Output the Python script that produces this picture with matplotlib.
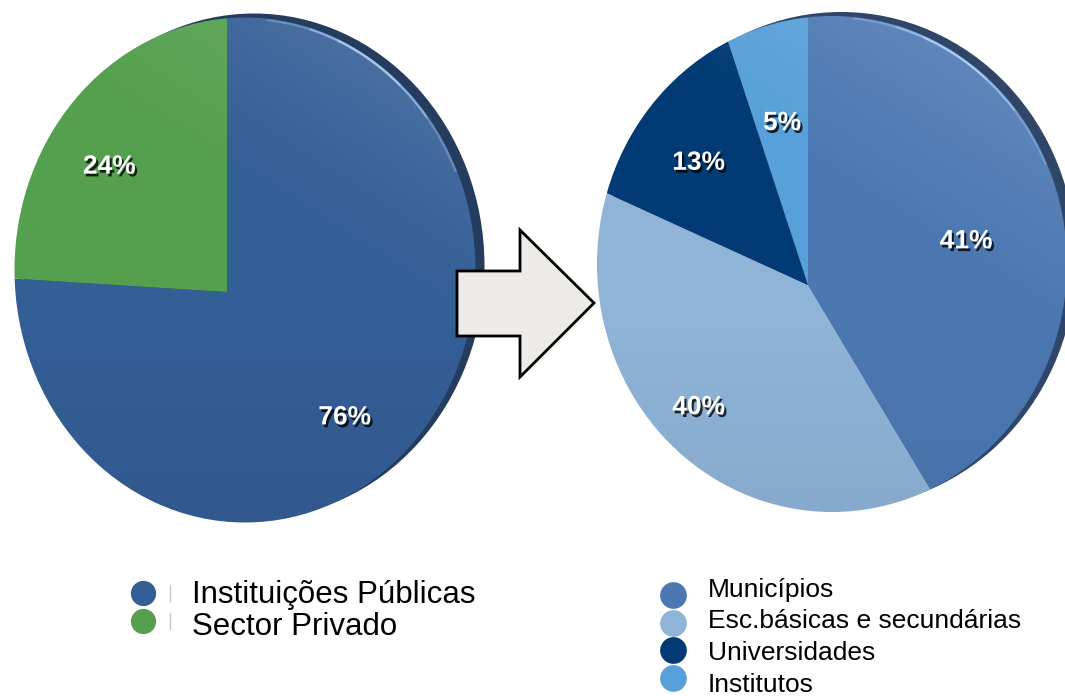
import numpy as np
import matplotlib.pyplot as plt
import matplotlib.patheffects as pe
from matplotlib.patches import Ellipse, Polygon, Arc

plt.rcParams['font.family'] = ['Liberation Sans', 'DejaVu Sans']

H = 696  # image height in px, data y = H - image y

# left pie: public vs private
left_labels = ['Instituições Públicas', 'Sector Privado']
left_values = [76, 24]
left_colors = ['#345e96', '#55a04e']

# right pie: breakdown of the public institutions
right_labels = ['Municípios', 'Esc.básicas e secundárias', 'Universidades', 'Institutos']
right_values = [41, 40, 13, 5]
right_colors = ['#4c78b2', '#8fb4d8', '#013a74', '#57a0d9']

label_fx = [pe.withSimplePatchShadow(offset=(1.5, -2), shadow_rgbFace='black', alpha=0.8)]


def tilted_pie(ax, values, colors, apex, oval, pctdist, shadow_color):
    """pie drawn from the apex and cut to an oval, to fake the 3D tilt"""
    (cx, cy), w, h = oval
    ax.add_patch(Ellipse((cx + 9, cy + 4), w, h, color=shadow_color, zorder=1, lw=0))
    clip = Ellipse((cx, cy), w, h, transform=ax.transData)
    wedges, texts, autotexts = ax.pie(values, colors=colors, center=apex, radius=400,
                                      startangle=90, counterclock=False,
                                      autopct='%.0f%%', pctdistance=pctdist,
                                      wedgeprops={'linewidth': 0})
    for wdg in wedges:
        wdg.set_clip_path(clip)
        wdg.set_clip_on(True)
        wdg.set_zorder(2)

    # soft light from the upper right, a touch darker towards the bottom
    gx, gy = np.meshgrid(np.linspace(-1, 1, 200), np.linspace(-1, 1, 200))
    light = np.clip(0.5 * gx + 0.85 * gy - 0.25, 0, None)
    shade = np.zeros((200, 200, 4))
    shade[..., :3] = (light > 0)[..., None] * 1.0
    shade[..., 3] = np.where(light > 0, 0.16 * light ** 1.3, 0.07 * np.clip(-gy - 0.2, 0, None))
    im = ax.imshow(shade, extent=(cx - w / 2, cx + w / 2, cy - h / 2, cy + h / 2),
                   origin='lower', zorder=3, interpolation='bilinear', aspect='auto')
    im.set_clip_path(clip)

    # thin bright rim on the lit edge
    for a0, a1, alp in [(25, 85, 0.3), (40, 75, 0.45), (50, 68, 0.6)]:
        ax.add_patch(Arc((cx, cy), w - 3, h - 3, theta1=a0, theta2=a1, color='#b5d7ff',
                         lw=1.6, alpha=alp, zorder=3))

    for t in autotexts:
        t.set_color('white')
        t.set_fontsize(19)
        t.set_fontweight('bold')
        t.set_path_effects(label_fx)
        t.set_zorder(5)
    return wedges


fig = plt.figure(figsize=(10.65, 6.96), dpi=100)
ax = fig.add_axes([0, 0, 1, 1])

tilted_pie(ax, left_values, left_colors, (227, H - 292), ((245, H - 270), 461, 505), 0.43, '#243c5e')
tilted_pie(ax, right_values, right_colors, (808, H - 285), ((832, H - 264), 470, 496), 0.41, '#2f4669')

# arrow between the two pies
arrow = [(457, 271), (520, 271), (520, 230), (594, 303), (520, 377), (520, 336), (457, 336)]
ax.add_patch(Polygon([(x, H - y) for x, y in arrow], closed=True, facecolor='#ecebe8',
                     edgecolor='black', lw=2, zorder=4))

# legends drawn by hand so they sit under each pie
for i, (lab, col) in enumerate(zip(left_labels, left_colors)):
    y = H - (593 + 27.5 * i)
    ax.scatter(143, y, s=330, color=col, zorder=3, lw=0)
    ax.plot([170, 170], [y - 8, y + 8], color='#c8c8c8', lw=1)
    ax.text(192, H - (603 + 32 * i), lab, fontsize=22.5, va='baseline', ha='left')

for i, (lab, col) in enumerate(zip(right_labels, right_colors)):
    y = H - (595 + 27.5 * i)
    ax.scatter(673, y, s=370, color=col, zorder=3, lw=0)
    ax.text(708, H - (597 + 31.5 * i), lab, fontsize=19, va='baseline', ha='left')

ax.set_xlim(0, 1065)
ax.set_ylim(0, H)
ax.set_aspect('auto')
ax.axis('off')

fig.savefig('out.png', dpi=100)
